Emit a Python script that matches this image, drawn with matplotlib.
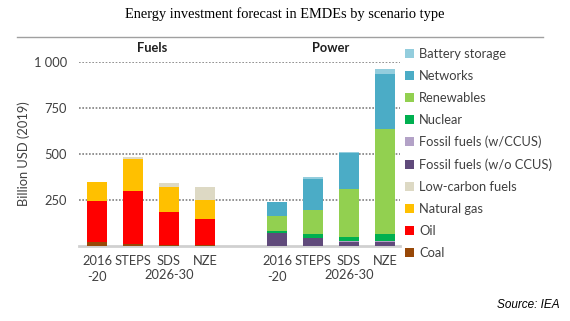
import matplotlib.pyplot as plt
import numpy as np

# data (billion USD 2019), 4 fuels bars then 4 power bars
bar_labels = ["2016\n-20", "STEPS", "SDS", "NZE", "2016\n-20", "STEPS", "SDS", "NZE"]
positions = [0, 1, 2, 3, 5, 6, 7, 8]

coal = [20, 11, 3, 2, 0, 0, 0, 0]
oil = [221, 285, 178, 143, 0, 0, 0, 0]
natural_gas = [107, 177, 140, 105, 0, 0, 0, 0]
low_carbon = [0, 9, 21, 67, 0, 0, 0, 0]
fossil_wo_ccus = [0, 0, 0, 0, 67, 40, 22, 22]
fossil_w_ccus = [0, 0, 0, 0, 0, 0, 3, 3]
nuclear = [0, 0, 0, 0, 13, 25, 24, 37]
renewables = [0, 0, 0, 0, 80, 131, 261, 572]
networks = [0, 0, 0, 0, 76, 167, 194, 301]
battery = [0, 0, 0, 0, 2, 9, 5, 24]

series = [
    ("Coal", coal, "#984807"),
    ("Oil", oil, "#FF0000"),
    ("Natural gas", natural_gas, "#FFC000"),
    ("Low-carbon fuels", low_carbon, "#DDD9C4"),
    ("Fossil fuels (w/o CCUS)", fossil_wo_ccus, "#604A7B"),
    ("Fossil fuels (w/CCUS)", fossil_w_ccus, "#B3A2C7"),
    ("Nuclear", nuclear, "#00B050"),
    ("Renewables", renewables, "#92D050"),
    ("Networks", networks, "#4BACC6"),
    ("Battery storage", battery, "#93CDDD"),
]

plt.rcParams['font.family'] = ['Lato', 'DejaVu Sans']
txt = "#404040"
fs = 9.3

fig = plt.figure(figsize=(5.7, 3.21), dpi=100)
ax = fig.add_axes([79 / 570, 1 - 245.7 / 321, 321 / 570, 184 / 321])

bottom = np.zeros(len(positions))
handles = []
for name, vals, col in series:
    vals = np.array(vals, dtype=float)
    b = ax.bar(positions, vals, 0.56, bottom=bottom, color=col, label=name, zorder=3)
    bottom += vals
    handles.append(b)

ax.set_xlim(-0.5, 8.42)
ax.set_ylim(0, 1000)
ax.set_yticks([250, 500, 750, 1000])
ax.set_yticklabels(["250", "500", "750", "1 000"], fontsize=fs, color=txt)
ax.set_xticks(positions)
ax.set_xticklabels(bar_labels, fontsize=fs, color=txt, linespacing=1.35)
ax.tick_params(length=0)
ax.tick_params(axis='x', pad=7)
ax.tick_params(axis='y', pad=8.5)
ax.grid(axis='y', color="#808080", linestyle=(0, (1, 1)), linewidth=1.2, zorder=0)
for s in ['top', 'right', 'left']:
    ax.spines[s].set_visible(False)
ax.spines['bottom'].set_color("#d0d0d0")
ax.spines['bottom'].set_linewidth(2)
ax.set_ylabel("Billion USD (2019)", fontsize=fs, color=txt, labelpad=3)

# period label under the three scenario bars
for xp in [2, 7]:
    ax.annotate("2026-30", xy=(xp, 0), xycoords=('data', 'axes fraction'),
                xytext=(0, -(275 - 245.7) * 0.72), textcoords='offset points',
                ha='center', va='center', fontsize=fs, color=txt)

fig.text(152 / 570, 1 - 48 / 321, "Fuels", ha='center', va='center', fontsize=fs,
         fontweight='bold', color="#202020")
fig.text(331 / 570, 1 - 48 / 321, "Power", ha='center', va='center', fontsize=fs,
         fontweight='bold', color="#202020")

fig.text(285 / 570, 1 - 14 / 321, "Energy investment forecast in EMDEs by scenario type",
         ha='center', va='center', fontsize=10.4, family='Liberation Serif', color='black')

# top rule
fig.add_artist(plt.Line2D([17 / 570, 543 / 570], [1 - 37 / 321, 1 - 37 / 321],
                          color="#a0a0a0", linewidth=1))

leg = fig.legend(handles[::-1], [s[0] for s in series][::-1], loc='upper left',
                 bbox_to_anchor=(405 / 570, 1 - 48 / 321), frameon=False,
                 fontsize=fs, handlelength=0.7, handleheight=0.7, handletextpad=0.4,
                 labelspacing=0.77, borderaxespad=0, borderpad=0)
for t in leg.get_texts():
    t.set_color(txt)

fig.text(560 / 570, 1 - 305 / 321, "Source: IEA", ha='right', va='center', fontsize=8.5,
         style='italic', family='Liberation Sans', color='black')

fig.savefig("out.png", dpi=100)
